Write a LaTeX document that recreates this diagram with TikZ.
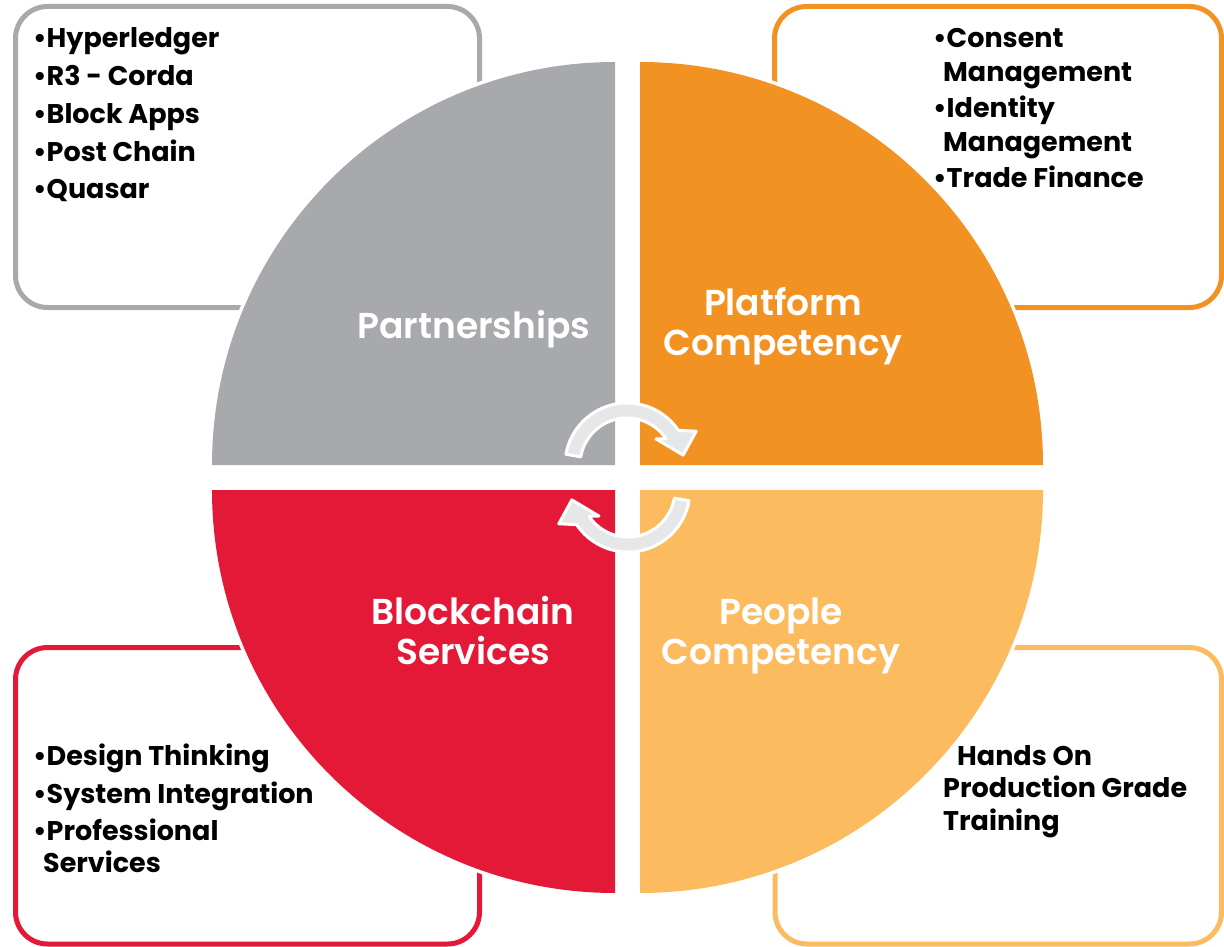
\documentclass[tikz,border=0pt]{standalone}
\usepackage{fontspec}
\setmainfont{Poppins}
\newfontfamily\capfont{Poppins SemiBold}

\definecolor{partgray}{HTML}{A7A9AC}
\definecolor{platorange}{HTML}{F29222}
\definecolor{peoplegold}{HTML}{FDBB5F}
\definecolor{servred}{HTML}{E31937}
\definecolor{arrowfill}{HTML}{E6E7E8}

\tikzset{
  listbox/.style = {line width=5pt, rounded corners=32pt, fill=white},
  halo/.style = {fill=white, draw=white, line width=7pt},
  caption/.style = {text=white, align=center, inner sep=0pt, anchor=base,
    font=\fontsize{36}{39.5}\selectfont\capfont},
  listtext/.style = {anchor=base west, inner sep=0pt,
    font=\fontsize{27}{35}\selectfont\bfseries},
  turnarrow/.style = {fill=arrowfill, draw=white, line width=3pt, line join=round}
}

\begin{document}
\begin{tikzpicture}[x=1pt, y=-1pt]
  \useasboundingbox (0,0) rectangle (1224,947);
  % boxes behind the circle
  \draw[listbox, draw=partgray] (15.5,6.5) rectangle (479.5,307.5);
  \draw[listbox, draw=platorange] (774.5,6.5) rectangle (1221.5,307.5);
  \draw[listbox, draw=servred] (15.5,647.5) rectangle (479.5,944);
  \draw[listbox, draw=peoplegold] (775,647.5) rectangle (1221.5,944);

  % four quarters of the circle
  \foreach \col/\cx/\cy/\sa in {partgray/615/465/180, platorange/640/465/270,
      peoplegold/640/490/0, servred/615/490/90} {
    \path[halo] (\cx,\cy) -- ++(\sa:403) arc[start angle=\sa, delta angle=90, radius=403] -- cycle;
    \fill[\col] (\cx,\cy) -- ++(\sa:403) arc[start angle=\sa, delta angle=90, radius=403] -- cycle;
  }

  % last line of each caption sits on the given base
  \node[caption] (partners) at (474,338) {Partnerships};
  \node[caption] (platform) at (783,355) {Platform\\Competency};
  \node[caption] (services) at (473,664) {Blockchain\\Services};
  \node[caption] (people) at (781,664) {People\\Competency};

  % turning arrows in the middle
  \coordinate (topturn) at (627,465);
  \coordinate (lowturn) at (628,490);
  \draw[turnarrow] ([shift={(190:62)}]topturn) arc[start angle=190, end angle=326, radius=62]
    -- ([shift={(334:77)}]topturn) -- ([shift={(350:57)}]topturn)
    -- ([shift={(318:39)}]topturn) -- ([shift={(326:47)}]topturn)
    arc[start angle=326, end angle=190, radius=47] -- cycle;
  \draw[turnarrow] ([shift={(10:62)}]lowturn) arc[start angle=10, end angle=146, radius=62]
    -- ([shift={(154:77)}]lowturn) -- ([shift={(170:57)}]lowturn)
    -- ([shift={(138:39)}]lowturn) -- ([shift={(146:47)}]lowturn)
    arc[start angle=146, end angle=10, radius=47] -- cycle;

  % lists
  \foreach \ty/\tx [count=\i] in {48/Hyperledger, 86/R3 - Corda, 124/Block Apps,
      162/Post Chain, 199/Quasar}
    \node[listtext] (part\i) at (33,\ty) {•\tx};

  \node[listtext] (plat1) at (933,48) {•Consent};
  \node[listtext] (plat2) at (943,82) {Management};
  \node[listtext] (plat3) at (933,118) {•Identity};
  \node[listtext] (plat4) at (943,152) {Management};
  \node[listtext] (plat5) at (933,188) {•Trade Finance};

  \node[listtext] (peop1) at (957,765) {Hands On};
  \node[listtext] (peop2) at (943,797) {Production Grade};
  \node[listtext] (peop3) at (943,830) {Training};

  \node[listtext] (serv1) at (33,765) {•Design Thinking};
  \node[listtext] (serv2) at (33,803) {•System Integration};
  \node[listtext] (serv3) at (33,840) {•Professional};
  \node[listtext] (serv4) at (43,872) {Services};
\end{tikzpicture}
\end{document}
